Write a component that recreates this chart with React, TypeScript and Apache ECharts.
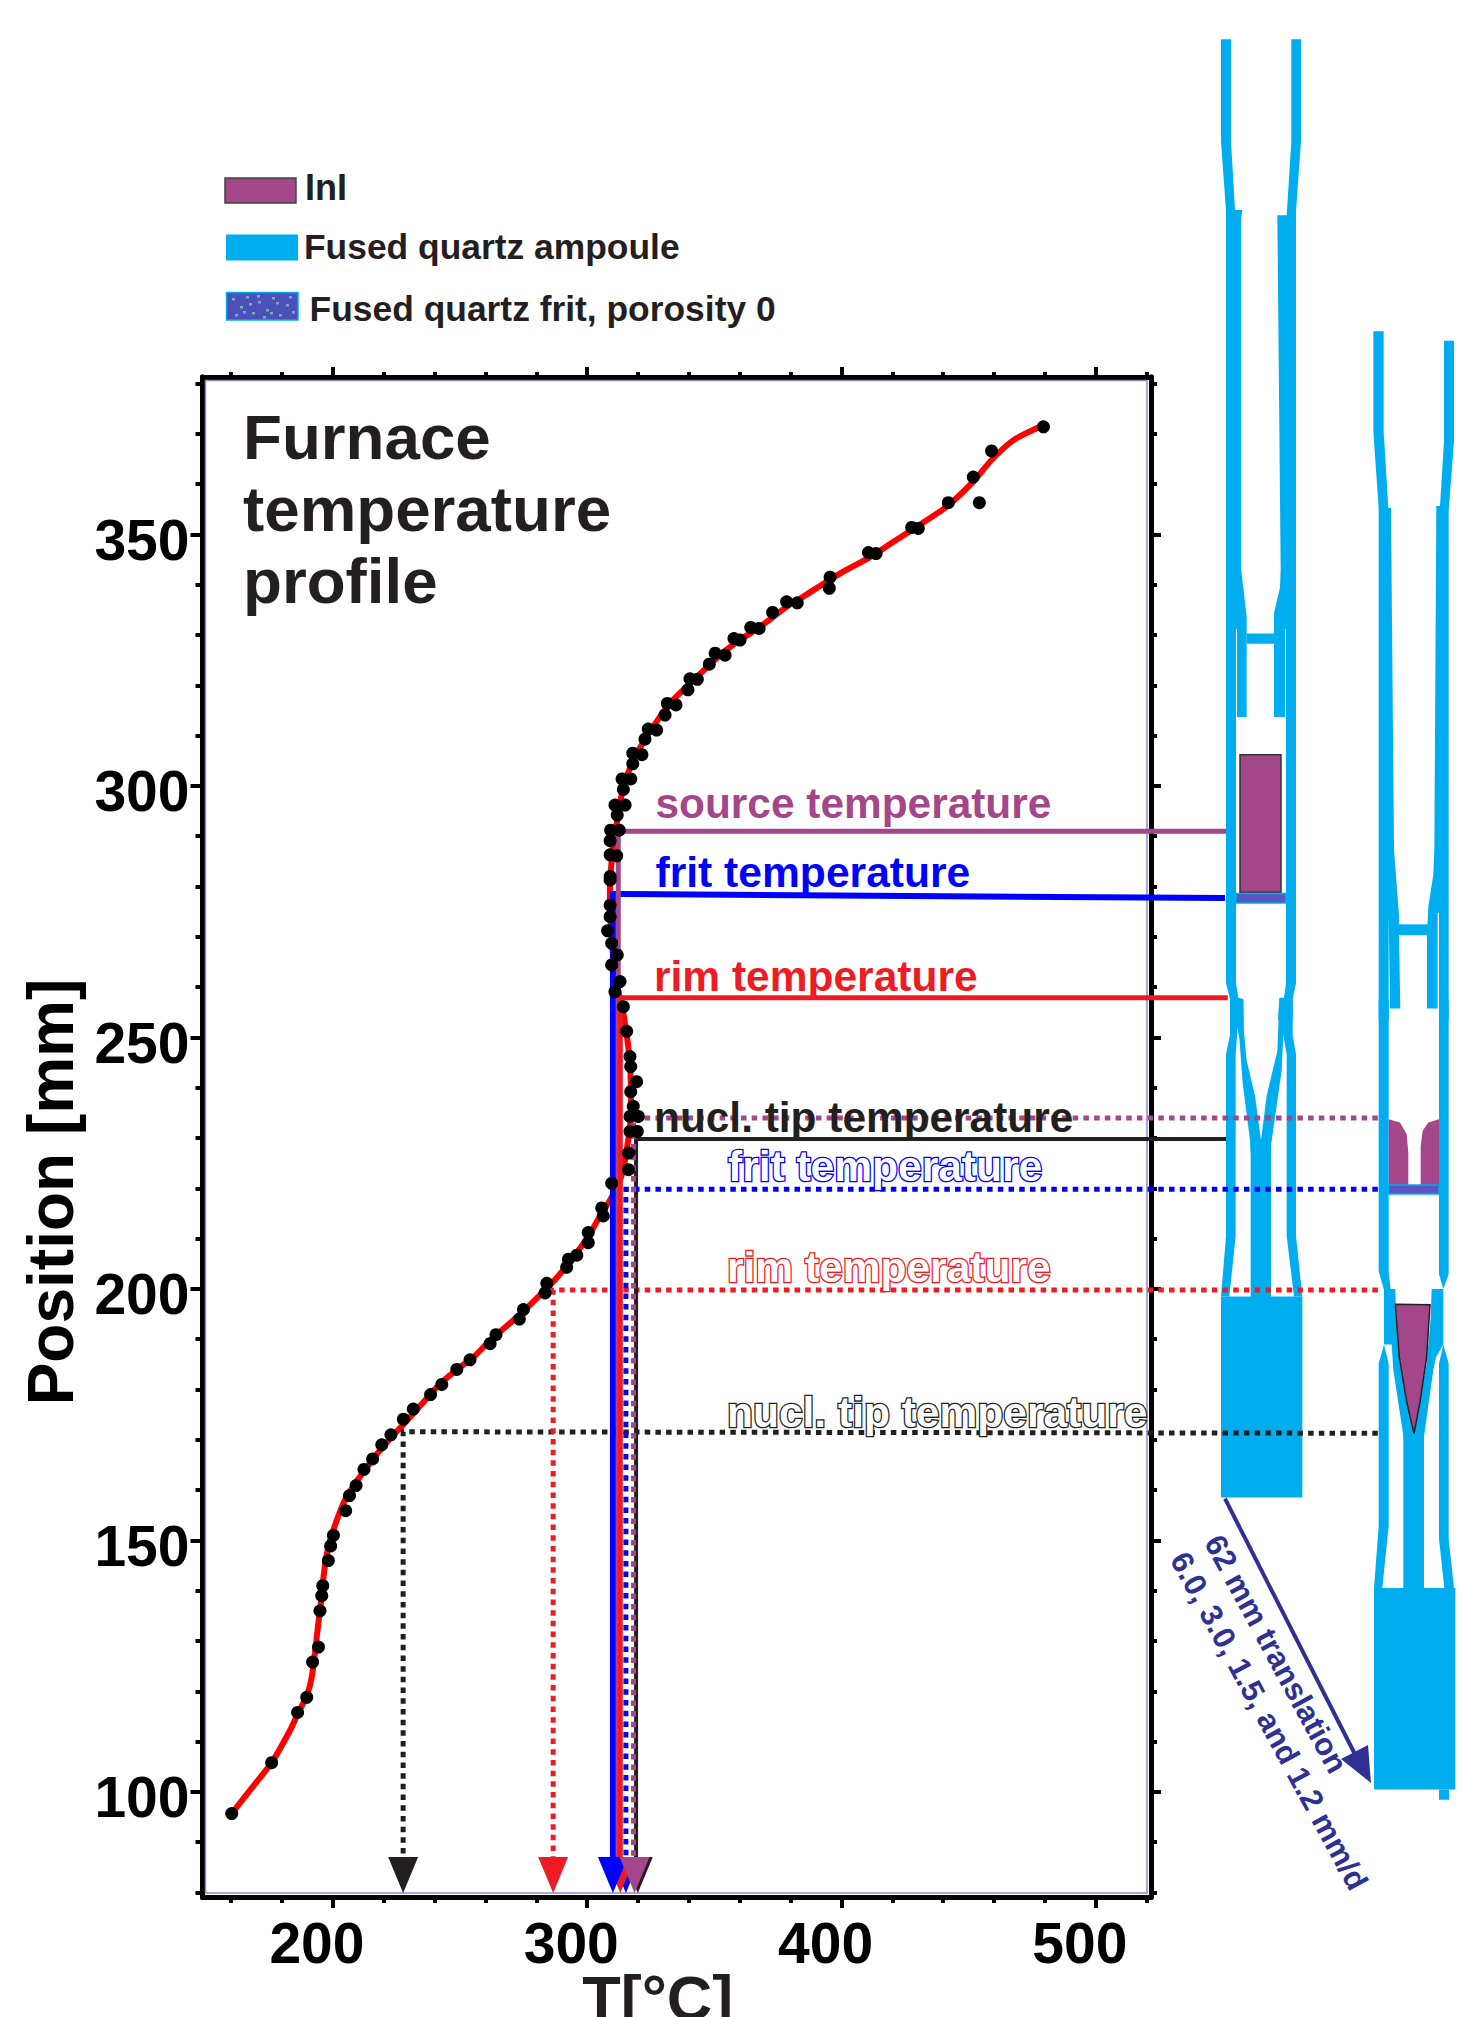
import React, { useEffect, useRef } from "react";
import * as echarts from "echarts";

const FONT = "'Liberation Sans', Arial, sans-serif";
const INK = "#231f20";
const PURPLE = "#a3478a";
const BLUE = "#0000ff";
const RED = "#ed1c24";
const QUARTZ = "#00aeef";
const NAVY = "#2e3192";

const xMajor = [200, 300, 400, 500];
const xMinor = [160, 180, 220, 240, 260, 280, 320, 340, 360, 380, 420, 440, 460, 480, 520];
const yMajor = [100, 150, 200, 250, 300, 350];
const yMinor = [80, 90, 110, 120, 130, 140, 160, 170, 180, 190, 210, 220, 230, 240, 260, 270, 280, 290, 310, 320, 330, 340, 360, 370, 380];

const measured = [
  [479.4, 371.4], [459, 366.6], [451.8, 361.4], [454.2, 356.3], [442, 356.3], [427.6, 351.4], [430.2, 351.2],
  [410.6, 346.4], [413.6, 346.2], [395.5, 341.5], [395.2, 339.3], [378.4, 336.6], [382.6, 336.4], [372.9, 334.5],
  [364.3, 331.5], [367.6, 331.3], [357.7, 329.3], [360.1, 329], [350.3, 326.4], [354.2, 326], [348, 324.2],
  [340.4, 321.3], [343.3, 321.2], [339.6, 319.1], [331.5, 316.4], [334.9, 316.1], [330.6, 314.1], [324, 311.3],
  [327.3, 311.1], [322.7, 309.3], [317.9, 306.5], [321.5, 306.2], [317.9, 304.4], [313.7, 301.4], [317.1, 301.4],
  [314.2, 299.3], [310.9, 296.2], [314.9, 296.2], [311.8, 294.2], [309.2, 291.2], [312.6, 291.2], [309, 289.1],
  [309, 286.3], [311.6, 286.1], [309, 282], [309, 281.3], [309, 276.3], [309, 274], [308, 271.2], [309.6, 268.7],
  [311.8, 266.4], [309.6, 264.4], [312.9, 261.1], [310.9, 259.1], [314.2, 256.1], [315.5, 251.2], [316.8, 246.2],
  [317.1, 244.2], [319.4, 241.2], [317.1, 239.2], [318.1, 236.3], [316.8, 234.3], [320.1, 234.3], [316.8, 231.3],
  [319.7, 231.3], [316.2, 227], [316.2, 223.7], [309.6, 221], [305.7, 216.1], [306.3, 214.5], [300.4, 211.2],
  [300.4, 209.2], [292.6, 205.9], [295.9, 206.7], [291.9, 204.3], [284.1, 201.1], [283.4, 199.2], [274.9, 195.9],
  [273.3, 194], [264.1, 190.9], [261.8, 189.1], [253.9, 185.9], [248.7, 184], [242.8, 181], [238.4, 179],
  [231.6, 176.1], [227.7, 174.1], [222.8, 171], [219.2, 169], [215.6, 166.2], [212.2, 164.1], [209.1, 160.9],
  [206.5, 158.9], [205, 155.9], [200.2, 151], [199.1, 148.9], [198.2, 146], [196, 141], [195.6, 139], [194.9, 136],
  [194.3, 128.8], [192, 125.8], [189.7, 118.8], [186.1, 115.8], [175.9, 105.8], [160.2, 95.7],
];

const profile = [
  [160.2, 95.7], [170, 102], [175.9, 105.8], [183.1, 112.2], [186.4, 115.8], [189.7, 119.1], [191.6, 122.7],
  [192.9, 127.6], [194.2, 133.3], [195.2, 137.3], [196, 141.4], [197.1, 145.9], [198.8, 149.9], [201.5, 154],
  [204.7, 158], [209.3, 161.7], [215.8, 166.2], [222.4, 170.2], [227.6, 173], [234.2, 176.7], [242.1, 181.1],
  [249.9, 184.4], [255.2, 186.4], [261.7, 189.7], [273.5, 194.9], [282.7, 199.4], [288, 202.2], [294.5, 206.3],
  [300.4, 210.4], [305, 214.5], [308.9, 217.6], [312.9, 221.6], [315.2, 226.6], [317.2, 234.9], [316.8, 244.9],
  [314.2, 254.8], [311.7, 260.4], [309.7, 269.3], [308.9, 278.7], [310.1, 287.8], [311.6, 292.5], [314.2, 299.8],
  [318.8, 305.8], [324.7, 310.8], [332.5, 316.4], [341.7, 321], [352.2, 326], [360, 329], [367.9, 331.6],
  [378.4, 335.6], [384.9, 337.6], [394.1, 340.6], [400.7, 342.6], [411.2, 345.5], [420.3, 348.5], [429.5, 351.5],
  [441.3, 355.5], [451.8, 360.5], [459, 364.8], [467.5, 368.7], [478, 371.4],
];

const sourceSolid = [[551.2, 291], [312.2, 291], [312.2, 85]];
const fritSolid = [[550.8, 277.7], [315, 278.5], [310.1, 278.5], [310.1, 85]];
const rimSolid = [[551.9, 257.9], [313, 257.9], [313, 85]];
const tipSolid = [[551.2, 229.8], [319.2, 229.8], [319.2, 85]];
const sourceDotted = [[610.9, 234], [318.2, 234], [318.2, 85]];
const fritDotted = [[610.9, 219.8], [315.2, 219.8], [315.2, 85]];
const rimDotted = [[610.9, 199.8], [286.6, 199.8], [286.6, 85]];
const tipDotted = [[610.9, 171.3], [227.6, 171.6], [227.6, 85]];

const FRAME = { left: 202.5, right: 1151, top: 377, bottom: 1897 };
const XMIN = 148.7, XMAX = 521.7, YMIN = 79.1, YMAX = 381.3;
// Wide hidden axis on the same scale, so the guide lines can run on to the ampoules.
const WIDE_RIGHT = 1466;
const XMAX_WIDE = XMIN + ((WIDE_RIGHT - FRAME.left) * (XMAX - XMIN)) / (FRAME.right - FRAME.left);

const z5 = (p: number[]) => [1200 + p[0] / 3, 20 + p[1] / 1.568];
const z6 = (p: number[]) => [1200 + p[0] / 3, 1000 + p[1] / 1.568];
const rectPts = (a: number, b: number, c: number, d: number) => [[a, b], [c, b], [c, d], [a, d]];

const upperQuartz = [
  [[63,30],[93,30],[93,190],[105,298],[127,298],[123,315],[123,860],[140,935],[140,1093],[111,1093],[111,955],[108,955],[108,1510],[115,1533],[130,1535],[130,1568],[90,1568],[90,1535],[78,1510],[78,300],[63,190]],
  [[274,30],[303,30],[303,190],[288,300],[288,1510],[278,1535],[278,1568],[234,1568],[238,1533],[252,1533],[258,1510],[258,955],[255,955],[255,1093],[222,1093],[222,930],[240,890],[242,860],[232,306],[260,306],[274,190]],
  rectPts(140, 962, 222, 978),
  [[520,488],[551,488],[551,645],[565,765],[573,765],[582,1300],[597,1405],[597,1435],[601,1550],[570,1550],[566,1400],[566,1568],[536,1568],[536,765],[520,645]],
  [[732,503],[762,503],[762,660],[746,770],[746,1568],[717,1568],[717,1400],[713,1400],[713,1550],[681,1550],[681,1435],[685,1390],[700,1340],[703,1300],[709,762],[720,762],[732,660]],
  rectPts(597, 1418, 690, 1435),
];
const lowerQuartz = [
  [[90,0],[115,0],[112,50],[107,85],[107,370],[88,465],[63,465],[78,370],[78,85],[90,55]],
  [[92,0],[130,0],[132,50],[140,95],[165,150],[183,220],[183,240],[152,240],[150,220],[128,130],[118,60],[110,40]],
  [[240,0],[278,0],[278,55],[288,85],[288,370],[307,465],[282,465],[260,370],[260,85],[250,55]],
  [[238,0],[278,0],[250,55],[245,110],[213,228],[213,240],[183,240],[183,220],[200,150],[232,80]],
  rectPts(152, 225, 213, 470),
  rectPts(63, 465, 307, 780),
  [[536,0],[566,0],[566,425],[572,455],[552,455],[552,540],[566,570],[566,825],[547,922],[522,922],[536,825],[536,570],[552,540],[552,455],[536,425]],
  [[552,453],[586,453],[588,490],[600,570],[642,680],[612,690],[580,580],[575,540],[552,540]],
  [[717,0],[746,0],[746,430],[730,453],[730,540],[746,570],[746,845],[762,922],[733,922],[717,845],[717,570],[730,540],[730,453],[717,430]],
  [[695,453],[730,453],[730,540],[708,560],[700,580],[672,685],[642,680],[680,570],[692,500]],
  rectPts(610, 680, 672, 925),
  rectPts(522, 922, 766, 1238),
  rectPts(717, 1238, 747, 1254),
];
const inI = [
  [[566,187],[600,192],[620,210],[625,240],[625,290],[566,290]],
  [[662,290],[662,230],[668,205],[685,192],[717,187],[717,290]],
];
const inICone = [[586,477],[690,478],[680,560],[660,630],[642,680],[620,630],[598,560]];
const speckles = [
  [232,298],[240,306],[246,296],[252,312],[258,301],[266,309],[272,297],[279,314],[286,304],[292,311],
  [235,314],[249,303],[263,316],[276,302],[289,296],[243,311],[257,295],[270,312],
];

function buildGraphic() {
  const els: any[] = [];
  const poly = (points: number[][], fill: string, z = 0, stroke?: string, lineWidth = 0) =>
    els.push({ type: "polygon", z, silent: true, shape: { points }, style: { fill, stroke, lineWidth } });
  const rect = (x: number, y: number, width: number, height: number, style: any, z = 0) =>
    els.push({ type: "rect", z, silent: true, shape: { x, y, width, height }, style });
  const text = (t: string, x: number, base: number, size: number, fill: string, extra: any = {}) =>
    els.push({
      type: "text", z: 100, silent: true, x, y: base + 1 - 0.347 * size,
      style: { text: t, x: 0, y: 0, fill, fontFamily: FONT, fontWeight: "bold", fontSize: size, verticalAlign: "middle", align: "left", ...extra },
    });

  upperQuartz.forEach((p) => poly(p.map(z5), QUARTZ));
  lowerQuartz.forEach((p) => poly(p.map(z6), QUARTZ));
  inI.forEach((p) => poly(p.map(z6), PURPLE, 1));
  poly(inICone.map(z6), PURPLE, 1, INK, 1.5);
  rect(1240, 754.7, 41, 137.5, { fill: PURPLE, stroke: "#333", lineWidth: 1.5 }, 1);
  rect(1236, 893.5, 50, 9.5, { fill: "#5a55c0", stroke: QUARTZ, lineWidth: 1.5 }, 1);
  rect(1388.5, 1185, 50.5, 9, { fill: "#5a55c0", stroke: QUARTZ, lineWidth: 1.5 }, 1);

  rect(205.5, 380.5, 941.5, 1512.5, { fill: "transparent", stroke: "#8a8ac8", lineWidth: 1.5 }, 1);

  els.push({ type: "line", z: 3, silent: true, shape: { x1: 1225, y1: 1498.7, x2: 1362, y2: 1768 }, style: { stroke: NAVY, lineWidth: 4 } });
  poly([[1341, 1759], [1368, 1745], [1371, 1783]], NAVY, 3);

  rect(225, 178, 71, 25, { fill: PURPLE, stroke: "#444", lineWidth: 1.5 }, 1);
  rect(226, 234.5, 72, 26, { fill: QUARTZ }, 1);
  rect(226.5, 292.5, 71.5, 27.5, { fill: "#4c4fb8", stroke: QUARTZ, lineWidth: 1.5 }, 1);
  speckles.forEach((s) => rect(s[0], s[1], 3, 2.5, { fill: "#6cb2b8" }, 2));
  text("InI", 305, 199, 36, INK);
  text("Fused quartz ampoule", 304, 258, 35.4, INK);
  text("Fused quartz frit, porosity 0", 309.6, 320, 35.4, INK);

  text("Furnace", 243, 458, 63.7, INK);
  text("temperature", 243, 530, 63.7, INK);
  text("profile", 243, 602, 63.7, INK);

  text("source temperature", 655.5, 817, 42.4, PURPLE);
  text("frit temperature", 655.5, 886, 42.6, BLUE);
  text("rim temperature", 654, 990.7, 42.5, RED);
  text("nucl. tip temperature", 654, 1131.7, 42.4, INK);
  const outline = (c: string) => ({ stroke: c, lineWidth: 2.6 });
  text("frit temperature", 728, 1180.7, 42.5, "#ffffff", outline(BLUE));
  text("rim temperature", 727, 1281.7, 42.5, "#ffffff", outline(RED));
  text("nucl. tip temperature", 727, 1426.7, 42.5, "#ffffff", outline(INK));

  const rotated = (t: string, x: number, y: number) =>
    els.push({
      type: "text", z: 100, silent: true, x, y, rotation: (-61.5 * Math.PI) / 180,
      style: { text: t, x: 0, y: 0, fill: NAVY, fontFamily: FONT, fontWeight: "bold", fontSize: 31, align: "center", verticalAlign: "middle" },
    });
  rotated("62 mm translation", 1276, 1654);
  rotated("6.0, 3.0, 1.5, and 1.2 mm/d", 1269, 1721);
  return els;
}

const lineSeries = (data: number[][], color: string, width: number, dotted: boolean) => ({
  type: "line", data, xAxisIndex: 4, yAxisIndex: 4, clip: false, showSymbol: false, symbol: "none", silent: true, z: 3,
  lineStyle: {
    color, width, cap: "butt", join: "miter",
    type: dotted ? [5.5, 5.2] : "solid",
  },
});
const arrow = (t: number, color: string) => ({
  type: "scatter", data: [[t, 79.9]], clip: false, symbol: "triangle", symbolRotate: 180,
  symbolSize: [30, 36], symbolOffset: [0, -18], itemStyle: { color, opacity: 1 }, silent: true, z: 3,
});

function buildOption(): any {
  const xAxisBase = (gridIndex: number, position: string, values: number[], length: number, labels: boolean) => ({
    type: "value", gridIndex, position, min: XMIN, max: XMAX, splitLine: { show: false },
    axisLine: { show: true, onZero: false, lineStyle: { color: "#000", width: 5 } },
    axisTick: { show: true, customValues: values, length, lineStyle: { color: "#000", width: 4 } },
    axisLabel: labels
      ? { show: true, customValues: values, margin: 17, padding: [0, 32, 0, 0], color: "#000", fontFamily: FONT, fontWeight: "bold", fontSize: 57 }
      : { show: false },
  });
  const yAxisBase = (gridIndex: number, position: string, values: number[], length: number, labels: boolean) => ({
    type: "value", gridIndex, position, min: YMIN, max: YMAX, splitLine: { show: false },
    axisLine: { show: true, onZero: false, lineStyle: { color: "#000", width: 5 } },
    axisTick: { show: true, customValues: values, length, lineStyle: { color: "#000", width: 4 } },
    axisLabel: labels
      ? { show: true, customValues: values, margin: 13, verticalAlign: "top", lineHeight: 11, color: "#000", fontFamily: FONT, fontWeight: "bold", fontSize: 57 }
      : { show: false },
  });
  const g = { left: FRAME.left, top: FRAME.top, width: FRAME.right - FRAME.left, height: FRAME.bottom - FRAME.top, outerBoundsMode: "none", containLabel: false };
  const gWide = { ...g, width: WIDE_RIGHT - FRAME.left };
  const xBottom: any = xAxisBase(0, "bottom", xMajor, 11, true);
  xBottom.name = "T[°C]";
  xBottom.nameLocation = "middle";
  xBottom.nameMoveOverlap = false;
  xBottom.nameGap = 69;
  xBottom.nameTextStyle = { color: INK, fontFamily: FONT, fontWeight: "bold", fontSize: 63, padding: [0, 38, 0, 0] };
  const yLeft: any = yAxisBase(0, "left", yMajor, 12, true);
  yLeft.name = "Position [mm]";
  yLeft.nameLocation = "middle";
  yLeft.nameGap = 115;
  yLeft.nameTextStyle = { color: "#000", fontFamily: FONT, fontWeight: "bold", fontSize: 64, padding: [0, 110, 0, 0] };

  return {
    animation: false,
    backgroundColor: "#ffffff",
    grid: [g, g, gWide],
    xAxis: [
      xBottom,
      xAxisBase(0, "top", xMajor, 10, false),
      xAxisBase(1, "bottom", xMinor, 6, false),
      xAxisBase(1, "top", xMinor, 5, false),
      { type: "value", gridIndex: 2, show: false, min: XMIN, max: XMAX_WIDE, splitLine: { show: false } },
    ],
    yAxis: [
      yLeft,
      yAxisBase(0, "right", yMajor, 10, false),
      yAxisBase(1, "left", yMinor, 7, false),
      yAxisBase(1, "right", yMinor, 6, false),
      { type: "value", gridIndex: 2, show: false, min: YMIN, max: YMAX, splitLine: { show: false } },
    ],
    graphic: { elements: buildGraphic() },
    series: [
      { type: "scatter", data: measured, symbol: "circle", symbolSize: 13, itemStyle: { color: "#000", opacity: 1 }, clip: false, silent: true, z: 3 },
      { type: "line", data: profile, smooth: 0.25, clip: false, showSymbol: false, symbol: "none", silent: true, z: 3, lineStyle: { color: "#ff0000", width: 6 } },
      lineSeries(tipDotted, INK, 5, true),
      lineSeries(rimDotted, RED, 5, true),
      arrow(227.6, INK),
      arrow(286.6, RED),
      lineSeries(tipSolid, INK, 4, false),
      arrow(319.9, INK),
      lineSeries(fritDotted, BLUE, 5, true),
      arrow(315.2, BLUE),
      arrow(313, RED),
      lineSeries(fritSolid, BLUE, 6, false),
      arrow(310.1, BLUE),
      lineSeries(sourceDotted, PURPLE, 5, true),
      lineSeries(sourceSolid, PURPLE, 5, false),
      arrow(318.6, PURPLE),
      lineSeries(rimSolid, RED, 5, false),
    ],
  };
}

export default function App() {
  const ref = useRef<HTMLDivElement>(null);
  useEffect(() => {
    if (!ref.current) return;
    const chart = echarts.init(ref.current, undefined, { renderer: "svg" });
    chart.setOption(buildOption());
    return () => chart.dispose();
  }, []);
  return <div ref={ref} style={{ position: "absolute", left: 0, top: 0, width: 1466, height: 2017 }} />;
}
